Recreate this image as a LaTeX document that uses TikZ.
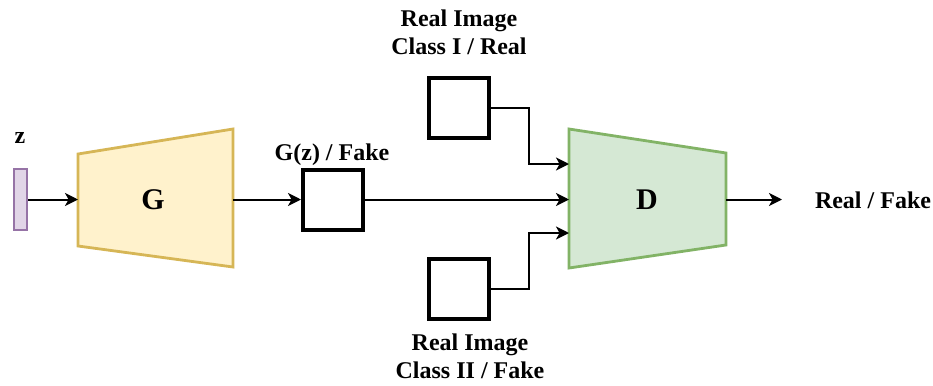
\documentclass[tikz,border=0pt]{standalone}
\usepackage{fontspec}
\setmainfont{Liberation Serif}
\usetikzlibrary{arrows.meta}
\definecolor{zfill}{HTML}{E1D5E7}
\definecolor{zline}{HTML}{9673A6}
\definecolor{gfill}{HTML}{FFF2CC}
\definecolor{gline}{HTML}{D6B656}
\definecolor{dfill}{HTML}{D5E8D4}
\definecolor{dline}{HTML}{82B366}
\begin{document}
\begin{tikzpicture}[x=0.5pt,y=-0.5pt,
  lbl/.style={font=\bfseries\fontsize{12}{14}\selectfont, anchor=base, inner sep=0},
  big/.style={font=\bfseries\fontsize{15}{18}\selectfont, anchor=base, inner sep=0},
  imgbox/.style={draw, line width=2pt, minimum width=30pt, minimum height=30pt, inner sep=0},
  flow/.style={line width=1pt, -{Stealth[length=6.5pt,width=6.5pt,inset=1.8pt]}},
  net/.style={line width=1.4pt, line join=miter},
]
\useasboundingbox (0,0) rectangle (933,386);

% latent vector z
\node[draw=zline, fill=zfill, line width=1.3pt, minimum width=6.5pt, minimum height=30.5pt, inner sep=0] (zvec) at (20.5,199.5) {};
\node[lbl] (zlbl) at (20,143) {z};

% generator
\filldraw[net, draw=gline, fill=gfill] (78,154) -- (233,129) -- (233,267) -- (78,246) -- cycle;
\node[big] (glbl) at (153,209) {G};
\coordinate (Gin) at (78,199.5);
\coordinate (Gout) at (233,199.5);

% discriminator
\filldraw[net, draw=dline, fill=dfill] (569,129) -- (726,153) -- (726,245) -- (569,268) -- cycle;
\node[big] (dlbl) at (647,209) {D};
\coordinate (Din1) at (569,164);
\coordinate (Din2) at (569,199.5);
\coordinate (Din3) at (569,233);
\coordinate (Dout) at (726,199.5);
\coordinate (verdict) at (782,199.5);

% image boxes
\node[imgbox] (fake) at (333,199.5) {};
\node[lbl] (fakelbl) at (332,160) {G(z) / Fake};
\node[imgbox] (real1) at (459,108) {};
\node[lbl] (r1a) at (459,26) {Real Image};
\node[lbl] (r1b) at (459,54) {Class I / Real};
\node[imgbox] (real2) at (459,289) {};
\node[lbl] (r2a) at (470,350) {Real Image};
\node[lbl] (r2b) at (470,378) {Class II / Fake};

\node[lbl] (outlbl) at (873,208) {Real / Fake};

% connectors
\draw[flow] (zvec.east) -- (Gin);
\draw[flow] (Gout) -- (fake.west);
\draw[flow] (fake.east) -- (Din2);
\draw[flow] (real1.east) -- ++(38,0) |- (Din1);
\draw[flow] (real2.east) -- ++(38,0) |- (Din3);
\draw[flow] (Dout) -- (verdict);
\end{tikzpicture}
\end{document}
